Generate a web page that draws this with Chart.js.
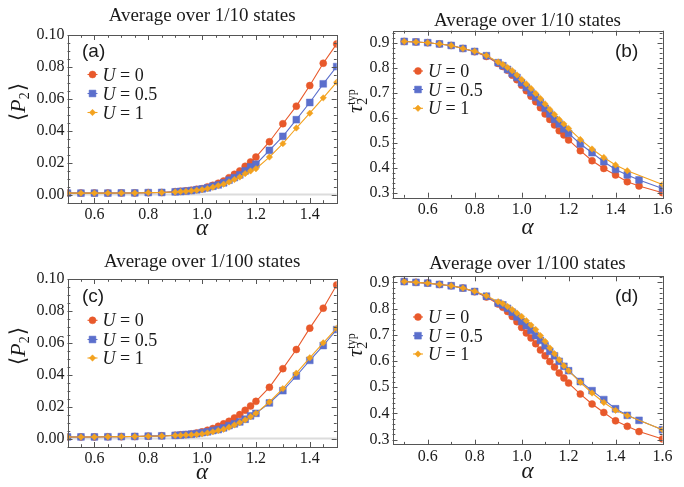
<!DOCTYPE html>
<html><head><meta charset="utf-8">
<script src="https://cdn.jsdelivr.net/npm/chart.js@4"></script>
<style>
html,body{margin:0;padding:0;background:#fff;}
body{width:684px;height:487px;position:relative;overflow:hidden;}
canvas{position:absolute;display:block;}
</style></head><body>
<canvas id="ca" width="342" height="243" style="left:0;top:0;width:342px;height:243px"></canvas>
<canvas id="cb" width="342" height="243" style="left:342px;top:0;width:342px;height:243px"></canvas>
<canvas id="cc" width="342" height="243" style="left:0;top:244px;width:342px;height:243px"></canvas>
<canvas id="cd" width="342" height="243" style="left:342px;top:244px;width:342px;height:243px"></canvas>
<script>
// ---------- data ----------
const uValues = ['0', '0.5', '1'];
const panelTitles = ['Average over 1/10 states', 'Average over 1/10 states', 'Average over 1/100 states', 'Average over 1/100 states'];
const panelTags = ['(a)', '(b)', '(c)', '(d)'];

const alphaP = [0.5,0.55,0.6,0.65,0.7,0.75,0.8,0.85,0.9,0.92,0.94,0.96,0.98,1.0,1.02,1.04,1.06,1.08,1.1,1.12,1.14,1.16,1.18,1.2,1.25,1.3,1.35,1.4,1.45,1.5];
const alphaT = [0.5,0.55,0.6,0.65,0.7,0.75,0.8,0.85,0.9,0.92,0.94,0.96,0.98,1.0,1.02,1.04,1.06,1.08,1.1,1.12,1.14,1.16,1.18,1.2,1.25,1.3,1.35,1.4,1.45,1.5,1.6];

// (a) <P2>, 1/10 states
const pA_U0  = [0.0009,0.0009,0.0009,0.0009,0.0010,0.0010,0.0012,0.0013,0.0018,0.0021,0.0023,0.0027,0.0033,0.0037,0.0048,0.0058,0.0071,0.0085,0.0106,0.0127,0.0148,0.0177,0.0204,0.0235,0.0331,0.0444,0.0554,0.0683,0.0823,0.0944];
const pA_U05 = [0.0009,0.0009,0.0009,0.0009,0.0010,0.0010,0.0012,0.0013,0.0017,0.0019,0.0021,0.0025,0.0030,0.0035,0.0042,0.0052,0.0060,0.0073,0.0090,0.0106,0.0123,0.0148,0.0173,0.0190,0.0277,0.0365,0.0469,0.0577,0.0694,0.0802];
const pA_U1  = [0.0009,0.0009,0.0009,0.0009,0.0010,0.0010,0.0012,0.0013,0.0016,0.0018,0.0020,0.0023,0.0027,0.0031,0.0037,0.0046,0.0056,0.0065,0.0079,0.0094,0.0110,0.0131,0.0148,0.0162,0.0235,0.0319,0.0417,0.0510,0.0606,0.0704];

// (b) tau2 typ, 1/10 states
const tB_U0  = [0.905,0.903,0.900,0.895,0.889,0.877,0.864,0.845,0.817,0.805,0.790,0.770,0.752,0.730,0.708,0.686,0.664,0.640,0.615,0.593,0.571,0.548,0.531,0.511,0.468,0.428,0.397,0.371,0.344,0.327,0.300];
const tB_U05 = [0.905,0.903,0.900,0.895,0.889,0.877,0.865,0.848,0.820,0.808,0.793,0.777,0.761,0.740,0.721,0.700,0.681,0.660,0.637,0.615,0.593,0.575,0.555,0.537,0.495,0.460,0.424,0.393,0.371,0.351,0.317];
const tB_U1  = [0.905,0.903,0.900,0.895,0.889,0.877,0.866,0.849,0.823,0.813,0.801,0.788,0.771,0.753,0.735,0.717,0.697,0.677,0.655,0.633,0.613,0.593,0.575,0.557,0.513,0.475,0.441,0.411,0.388,null,0.333];

// (c) <P2>, 1/100 states
const pC_U0  = [0.0010,0.0010,0.0010,0.0011,0.0012,0.0013,0.0015,0.0017,0.0021,0.0023,0.0025,0.0029,0.0035,0.0042,0.0052,0.0063,0.0077,0.0092,0.0108,0.0129,0.0150,0.0177,0.0204,0.0233,0.0321,0.0438,0.0558,0.0692,0.0817,0.0963];
const pC_U05 = [0.0010,0.0010,0.0010,0.0011,0.0012,0.0013,0.0015,0.0017,0.0020,0.0022,0.0025,0.0027,0.0031,0.0037,0.0042,0.0050,0.0056,0.0067,0.0081,0.0092,0.0104,0.0121,0.0142,0.0158,0.0223,0.0300,0.0392,0.0490,0.0583,0.0683];
const pC_U1  = [0.0010,0.0010,0.0010,0.0011,0.0012,0.0013,0.0014,0.0016,0.0019,0.0020,0.0022,0.0023,0.0025,0.0029,0.0035,0.0042,0.0050,0.0058,0.0071,0.0085,0.0100,0.0117,0.0137,0.0158,0.0229,0.0313,0.0410,0.0506,0.0600,0.0692];

// (d) tau2 typ, 1/100 states
const tD_U0  = [0.903,0.900,0.897,0.892,0.887,0.878,0.864,0.844,0.817,0.805,0.789,0.770,0.750,0.728,0.707,0.688,0.666,0.642,0.620,0.598,0.577,0.554,0.535,0.516,0.474,0.436,0.404,0.372,0.351,0.331,0.303];
const tD_U05 = [0.903,0.900,0.897,0.892,0.887,0.878,0.865,0.847,0.821,0.814,0.801,0.786,0.768,0.751,0.735,0.717,0.697,0.679,0.658,0.637,0.620,0.599,0.580,0.563,0.522,0.487,0.453,0.418,0.393,0.374,0.338];
const tD_U1  = [0.903,0.900,0.897,0.892,0.887,0.878,0.866,0.849,0.826,0.819,0.808,0.796,0.783,0.770,0.754,0.737,0.720,0.697,0.675,0.650,0.628,0.605,0.582,0.563,0.519,0.478,0.442,0.412,0.392,null,0.338];

// tick labels
const xTicksP = [0.6, 0.8, 1.0, 1.2, 1.4];
const xTicksT = [0.6, 0.8, 1.0, 1.2, 1.4, 1.6];
const yTicksP = [0.00, 0.02, 0.04, 0.06, 0.08, 0.10];
const yTicksT = [0.3, 0.4, 0.5, 0.6, 0.7, 0.8, 0.9];

// ---------- styles ----------
const colors = ['#E8592B', '#5B6FCC', '#F3A21F'];
const pStyles = ['circle', 'rect', 'rectRot'];
const pRadii = [3.5, 4.8, 3.2];
const SERIF = '"Liberation Serif", "Times New Roman", "DejaVu Serif", serif';
const SANS = '"Liberation Sans", Arial, "DejaVu Sans", sans-serif';
const FRAME = '#555555';
const TXT = '#1a1a1a';
const W = 342, H = 243;

function drawMarker(ctx, style, r, x, y, color) {
  ctx.save();
  ctx.fillStyle = color; ctx.strokeStyle = color; ctx.lineWidth = 0.5;
  if (Chart.helpers && Chart.helpers.drawPoint) {
    Chart.helpers.drawPoint(ctx, {pointStyle: style, radius: r, rotation: 0, borderWidth: 0.5}, x, y);
  }
  ctx.restore();
}

function richText(ctx, x, y, pieces, centered) {
  ctx.save();
  ctx.translate(x, y);
  ctx.rotate(-Math.PI / 2);
  ctx.textBaseline = 'alphabetic';
  ctx.textAlign = 'left';
  ctx.fillStyle = TXT;
  let total = 0;
  pieces.forEach(p => { if (!p.overlay) { ctx.font = p.font; total += ctx.measureText(p.t).width + (p.gap || 0); } });
  let u = centered ? -total / 2 : 0;
  let lastU = u;
  pieces.forEach(p => {
    ctx.font = p.font;
    const uu = p.overlay ? lastU : u;
    ctx.fillText(p.t, uu, p.dv || 0);
    if (!p.overlay) { lastU = u; u += ctx.measureText(p.t).width + (p.gap || 0); }
  });
  ctx.restore();
}

const decoPlugin = {
  id: 'deco',
  beforeDatasetsDraw(chart, args, o) {
    const {ctx, chartArea: a, scales: {y}} = chart;
    if (o.zeroLine) {
      const py = y.getPixelForValue(0);
      ctx.save();
      ctx.strokeStyle = '#dcdcdc'; ctx.lineWidth = 2;
      ctx.beginPath(); ctx.moveTo(a.left, py); ctx.lineTo(a.right, py); ctx.stroke();
      ctx.restore();
    }
  },
  afterDatasetsDraw(chart, args, o) {
    const {ctx, chartArea: a, scales: {x, y}} = chart;
    ctx.save();
    ctx.strokeStyle = FRAME; ctx.lineWidth = 1;
    ctx.strokeRect(Math.round(a.left) + 0.5, Math.round(a.top) + 0.5, Math.round(a.right - a.left), Math.round(a.bottom - a.top));
    ctx.beginPath();
    const eps = 1e-9;
    for (let k = Math.ceil(x.min / o.xMinor - eps); k * o.xMinor <= x.max + eps; k++) {
      const v = k * o.xMinor;
      const major = Math.abs(v / o.xMajor - Math.round(v / o.xMajor)) < 1e-6;
      const L = major ? 5 : 2.8;
      const px = Math.round(x.getPixelForValue(v)) + 0.5;
      ctx.moveTo(px, a.bottom); ctx.lineTo(px, a.bottom - L);
      ctx.moveTo(px, a.top); ctx.lineTo(px, a.top + L);
    }
    for (let k = Math.ceil(y.min / o.yMinor - eps); k * o.yMinor <= y.max + eps; k++) {
      const v = k * o.yMinor;
      const major = Math.abs(v / o.yMajor - Math.round(v / o.yMajor)) < 1e-6;
      const L = major ? 5 : 2.8;
      const py = Math.round(y.getPixelForValue(v)) + 0.5;
      ctx.moveTo(a.left, py); ctx.lineTo(a.left + L, py);
      ctx.moveTo(a.right, py); ctx.lineTo(a.right - L, py);
    }
    ctx.stroke();
    ctx.restore();
  },
  afterDraw(chart, args, o) {
    const {ctx, chartArea: a} = chart;
    ctx.save();
    ctx.fillStyle = TXT;
    ctx.font = '19px ' + SERIF;
    ctx.textAlign = 'center'; ctx.textBaseline = 'middle';
    ctx.fillText(o.title, (a.left + a.right) / 2, o.titleY);
    ctx.font = '19px ' + SANS;
    ctx.textAlign = 'left';
    ctx.fillText(o.tag, o.tagX, o.tagY);
    o.legendRows.forEach((ry, i) => {
      ctx.strokeStyle = colors[i]; ctx.lineWidth = 1.1;
      ctx.beginPath(); ctx.moveTo(o.legX - 5, ry); ctx.lineTo(o.legX + 5, ry); ctx.stroke();
      drawMarker(ctx, pStyles[i], pRadii[i], o.legX, ry, colors[i]);
      ctx.fillStyle = TXT;
      ctx.textBaseline = 'alphabetic';
      ctx.font = 'italic 18px ' + SERIF;
      ctx.fillText('U', o.legX + 10, ry + 6);
      const wU = ctx.measureText('U').width;
      ctx.font = '18px ' + SERIF;
      ctx.fillText(' = ' + uValues[i], o.legX + 10 + wU, ry + 6);
    });
    ctx.restore();
    if (o.yKind === 'P') {
      richText(ctx, o.yTitleX, o.yTitleY, [
        {t: '⟨', font: '22px ' + SERIF},
        {t: 'P', font: 'italic 22px ' + SERIF},
        {t: '2', font: '14px ' + SERIF, dv: 4, gap: 1},
        {t: '⟩', font: '22px ' + SERIF}
      ], true);
    } else {
      richText(ctx, o.yTitleX, o.yTitleY, [
        {t: 'τ', font: 'italic 22px ' + SERIF, gap: 0.5},
        {t: '2', font: '14px ' + SERIF, dv: 4.5},
        {t: 'typ', font: '12px ' + SERIF, dv: -7, overlay: true}
      ], false);
    }
  }
};

function makePanel(id, p) {
  const datasets = p.series.map((vals, i) => ({
    label: 'U = ' + uValues[i],
    data: p.xs.map((xv, j) => ({x: xv, y: vals[j]})),
    borderColor: colors[i],
    backgroundColor: colors[i],
    pointBackgroundColor: colors[i],
    pointBorderColor: colors[i],
    borderWidth: 1.1,
    pointStyle: pStyles[i],
    pointRadius: pRadii[i],
    pointHoverRadius: pRadii[i],
    pointBorderWidth: 0.5,
    order: 3 - i,
    spanGaps: true,
    clip: 0,
    tension: 0
  }));
  const tickFont = {family: SERIF, size: 16};
  new Chart(document.getElementById(id), {
    type: 'line',
    data: {datasets},
    plugins: [decoPlugin],
    options: {
      responsive: false, animation: false, devicePixelRatio: 1,
      events: [],
      layout: {padding: {top: p.area.top, right: W - p.area.right, left: 0, bottom: 0}},
      plugins: {
        legend: {display: false}, tooltip: {enabled: false}, title: {display: false},
        deco: p.deco
      },
      scales: {
        x: {
          type: 'linear', min: p.xMin, max: p.xMax,
          afterBuildTicks: s => { s.ticks = p.xTicks.map(v => ({value: v})); },
          afterFit: s => { s.height = H - p.area.bottom; },
          ticks: {callback: v => Number(v).toFixed(1), font: tickFont, color: TXT, padding: 2, maxRotation: 0, autoSkip: false},
          grid: {display: false, drawTicks: false},
          border: {display: false},
          title: {display: true, text: 'α', color: TXT, font: {family: SERIF, style: 'italic', size: 23, lineHeight: 1}, padding: {top: 0, bottom: p.alphaPad}}
        },
        y: {
          type: 'linear', min: p.yMin, max: p.yMax,
          afterBuildTicks: s => { s.ticks = p.yTicks.map(v => ({value: v})); },
          afterFit: s => { s.width = p.area.left; },
          ticks: {callback: v => Number(v).toFixed(p.yDec), font: tickFont, color: TXT, padding: 3, autoSkip: false},
          grid: {display: false, drawTicks: false},
          border: {display: false},
          title: {display: false}
        }
      }
    }
  });
}

makePanel('ca', {
  xs: alphaP, series: [pA_U0, pA_U05, pA_U1],
  xMin: 0.5, xMax: 1.5, yMin: -0.0053, yMax: 0.1,
  xTicks: xTicksP, yTicks: yTicksP, yDec: 2, alphaPad: 3,
  area: {left: 67.5, top: 35, right: 340, bottom: 203},
  deco: {zeroLine: true, xMinor: 0.05, xMajor: 0.2, yMinor: 0.005, yMajor: 0.02,
    title: panelTitles[0], titleY: 16.5, tag: panelTags[0], tagX: 82, tagY: 52,
    legendRows: [74.5, 93.5, 112.5], legX: 92.5, yKind: 'P', yTitleX: 25, yTitleY: 102}
});
makePanel('cb', {
  xs: alphaT, series: [tB_U0, tB_U05, tB_U1],
  xMin: 0.45, xMax: 1.6, yMin: 0.28, yMax: 0.948,
  xTicks: xTicksT, yTicks: yTicksT, yDec: 1, alphaPad: 4,
  area: {left: 50.5, top: 30.7, right: 320.5, bottom: 197.7},
  deco: {zeroLine: false, xMinor: 0.1, xMajor: 0.2, yMinor: 0.02, yMajor: 0.1,
    title: panelTitles[1], titleY: 21.5, tag: panelTags[1], tagX: 273, tagY: 52,
    legendRows: [71, 89.5, 108.3], legX: 76, yKind: 'T', yTitleX: 20, yTitleY: 113}
});
makePanel('cc', {
  xs: alphaP, series: [pC_U0, pC_U05, pC_U1],
  xMin: 0.5, xMax: 1.5, yMin: -0.0053, yMax: 0.1,
  xTicks: xTicksP, yTicks: yTicksP, yDec: 2, alphaPad: 3,
  area: {left: 67.5, top: 35, right: 340, bottom: 203},
  deco: {zeroLine: true, xMinor: 0.05, xMajor: 0.2, yMinor: 0.005, yMajor: 0.02,
    title: panelTitles[2], titleY: 18.5, tag: panelTags[2], tagX: 82, tagY: 52.5,
    legendRows: [76.3, 95.5, 114], legX: 92.5, yKind: 'P', yTitleX: 25, yTitleY: 102}
});
makePanel('cd', {
  xs: alphaT, series: [tD_U0, tD_U05, tD_U1],
  xMin: 0.45, xMax: 1.6, yMin: 0.281, yMax: 0.923,
  xTicks: xTicksT, yTicks: yTicksT, yDec: 1, alphaPad: 4,
  area: {left: 50.5, top: 32.3, right: 320.5, bottom: 200.7},
  deco: {zeroLine: false, xMinor: 0.1, xMajor: 0.2, yMinor: 0.02, yMajor: 0.1,
    title: panelTitles[3], titleY: 20.5, tag: panelTags[3], tagX: 273, tagY: 52.5,
    legendRows: [73, 91.7, 110], legX: 76, yKind: 'T', yTitleX: 20, yTitleY: 113}
});
</script>
</body></html>
